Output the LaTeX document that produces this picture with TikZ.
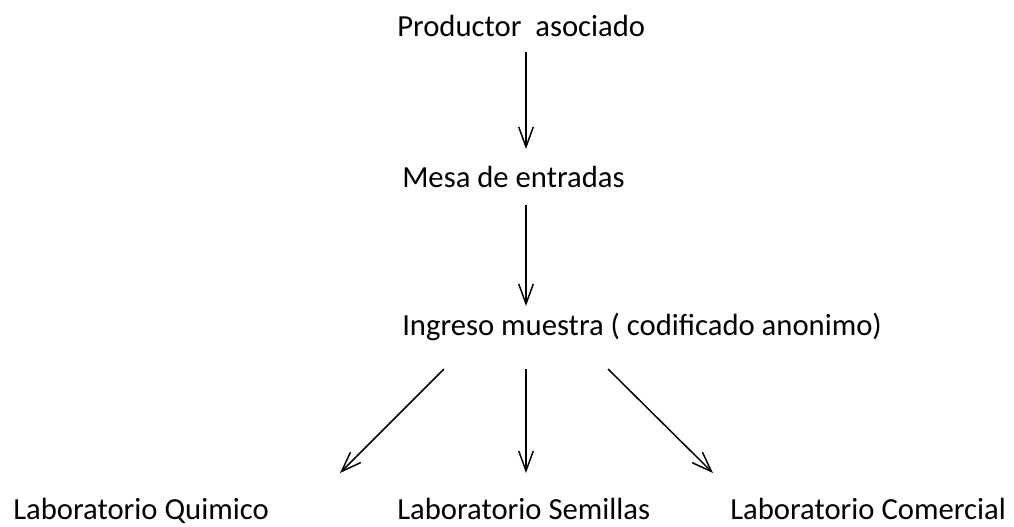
\documentclass[tikz,border=0pt]{standalone}
\usepackage{fontspec}
\setmainfont{Carlito}
\usetikzlibrary{arrows.meta}
\begin{document}
\begin{tikzpicture}[x=0.75pt,y=-0.75pt,
  lbl/.style={anchor=base west,inner sep=0pt,font=\fontsize{23}{27}\selectfont},
  arr/.style={line width=1.1pt,-{Straight Barb[length=15pt,width=11pt,line width=1.1pt]}}]
\useasboundingbox (0,0) rectangle (1014,526);
\node[lbl] (p) at (397,36) {Productor\ \ asociado};
\node[lbl] (m) at (402,187) {Mesa de entradas};
\node[lbl] (i) at (402,335) {Ingreso muestra ( codificado anonimo)};
\node[lbl] (q) at (13,519) {Laboratorio Quimico};
\node[lbl] (s) at (397,519) {Laboratorio Semillas};
\node[lbl] (c) at (730,519) {Laboratorio Comercial};
\coordinate (a1s) at (526,52);  \coordinate (a1e) at (526,149);
\coordinate (a2s) at (526,205); \coordinate (a2e) at (526,306);
\coordinate (l1s) at (444,369); \coordinate (l1e) at (340,473);
\coordinate (l2s) at (526,369); \coordinate (l2e) at (526,473);
\coordinate (l3s) at (608,369); \coordinate (l3e) at (713,473);
\draw[arr] (a1s) -- (a1e);
\draw[arr] (a2s) -- (a2e);
\draw[arr] (l1s) -- (l1e);
\draw[arr] (l2s) -- (l2e);
\draw[arr] (l3s) -- (l3e);
\end{tikzpicture}
\end{document}
